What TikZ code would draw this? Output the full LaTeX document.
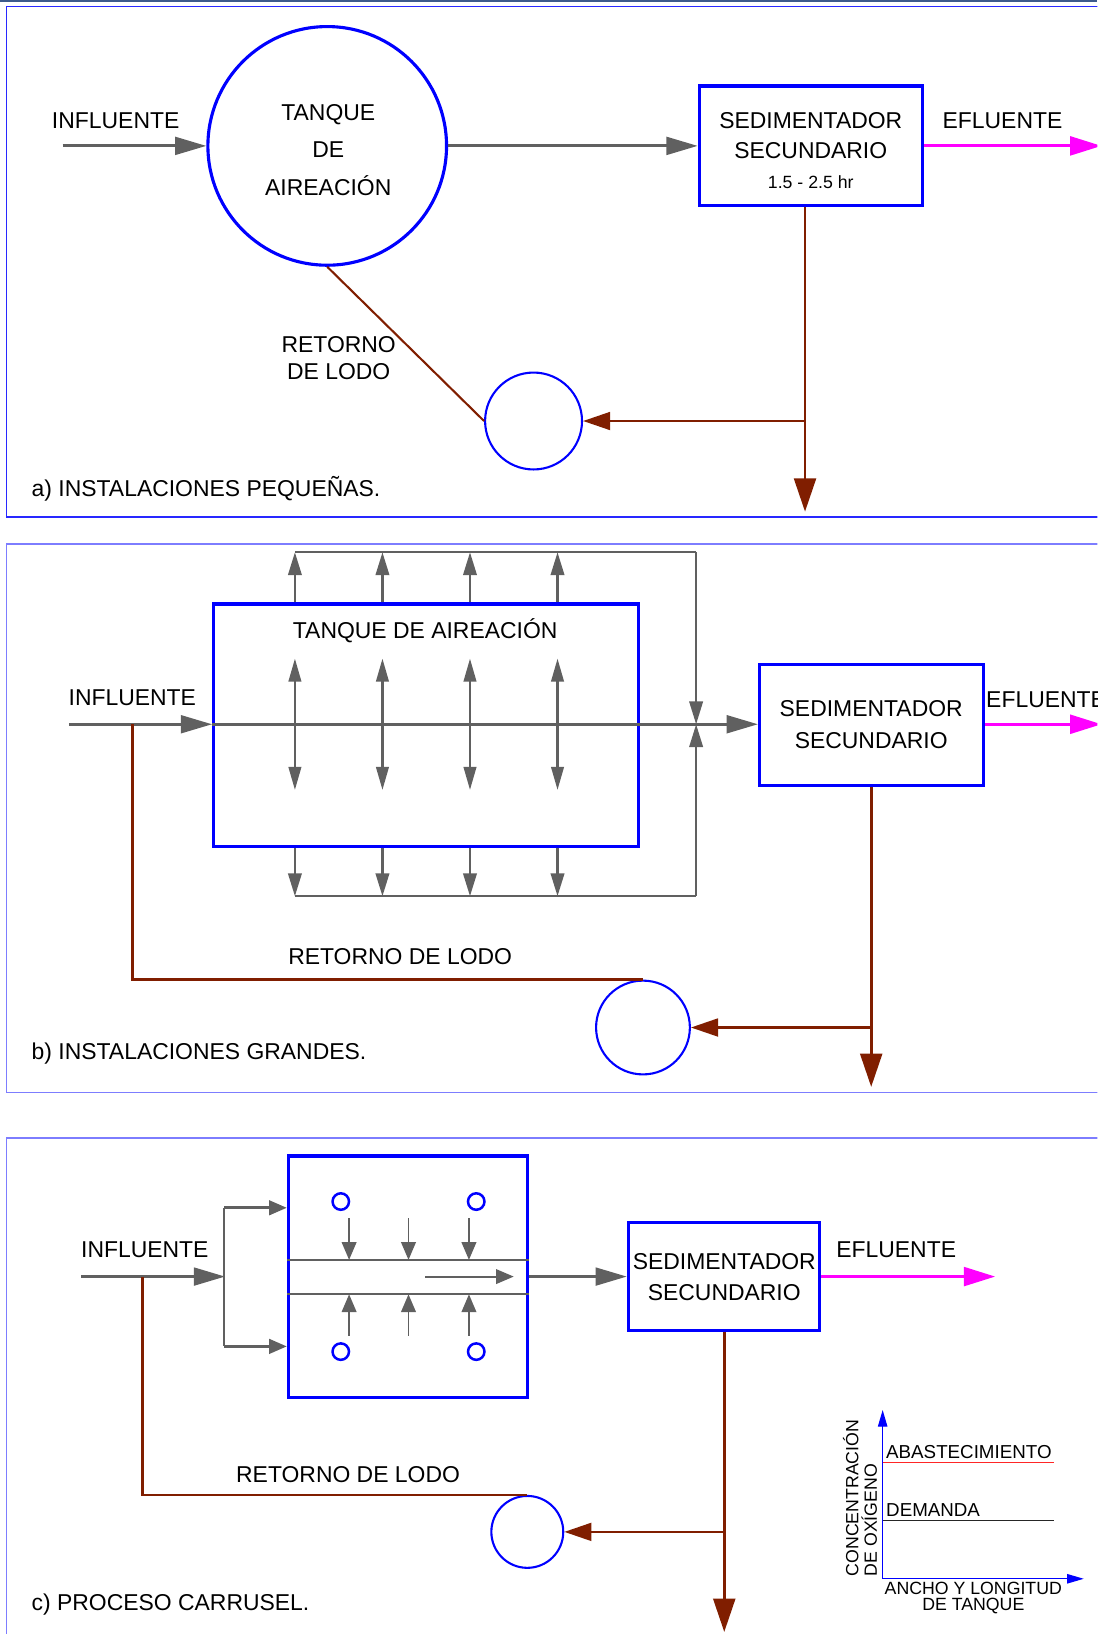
\documentclass[tikz,border=0pt]{standalone}
\usepackage{fontspec}
\setmainfont{Liberation Sans}
\usetikzlibrary{arrows.meta}

\definecolor{gris}{RGB}{96,96,96}
\definecolor{cafe}{RGB}{128,30,0}
\definecolor{rosa}{RGB}{255,0,255}
\definecolor{franja}{RGB}{60,90,140}
\definecolor{marcoA}{RGB}{40,40,255}
\definecolor{marcoB}{RGB}{125,125,255}

\begin{document}
\begin{tikzpicture}[x=0.5pt, y=-0.5pt,
    txt/.style={anchor=base, inner sep=0pt, font=\fontsize{11}{13}\selectfont},
    txtchico/.style={anchor=base, inner sep=0pt, font=\fontsize{8.5}{10}\selectfont},
    caja/.style={draw=blue, line width=1.5pt, inner sep=0pt},
    bomba/.style={circle, draw=blue, line width=1pt, inner sep=0pt},
    difusor/.style={circle, draw=blue, line width=1.2pt, inner sep=0pt, minimum size=7.9pt},
    linea/.style={draw=gris, line width=1.1pt},
    flujo/.style={draw=gris, line width=1.4pt, -{Triangle[length=15pt, width=8.5pt]}},
    flujoch/.style={draw=gris, line width=1.1pt, -{Triangle[length=11pt, width=6.5pt]}},
    flujomin/.style={draw=gris, line width=0.9pt, -{Triangle[length=8.5pt, width=7pt]}},
    efl/.style={draw=rosa, line width=1.4pt, -{Triangle[length=15pt, width=9pt]}},
    lodo/.style={draw=cafe, line width=1.3pt},
    lodofl/.style={lodo, -{Triangle[length=13pt, width=8.5pt]}},
    salida/.style={lodo, -{Triangle[length=16pt, width=10.5pt]}},
    eje/.style={draw=blue, line width=0.6pt, -{Triangle[length=8pt, width=4.5pt]}}]
  \clip (0,0) rectangle (1053,1568);

  % franja superior y marcos
  \fill[franja] (0,0) rectangle (1053,2.2);
  \draw[marcoA, line width=0.7pt] (1060,6) -- (6,6) -- (6,496) -- (1060,496);
  \draw[marcoB, line width=0.6pt] (1060,522) -- (6,522) -- (6,1048) -- (1060,1048);
  \draw[marcoB, line width=0.6pt] (1060,1092) -- (6,1092) -- (6,1580);

  % a) instalaciones pequenas
  \coordinate (inA) at (60,140);
  \node[bomba, line width=1.5pt, minimum size=114.5pt] (aireA) at (314,140) {};
  \node[caja, minimum width=107pt, minimum height=57.5pt] (sedA) at (778,140) {};
  \node[bomba, minimum size=46.5pt] (bombaA) at (512,404) {};
  \coordinate (efA) at (1057,140);
  \coordinate (jA) at (772.5,404);
  \coordinate (salA) at (772.5,491);
  \draw[flujo] (inA) -- (aireA);
  \draw[flujo] (aireA) -- (sedA);
  \draw[efl] (sedA) -- (efA);
  \draw[salida] (sedA.south -| salA) -- (salA);
  \draw[lodofl] (jA) -- (bombaA);
  \draw[lodo, line width=1pt] (bombaA.west) -- (aireA.south);
  \node[txt] (infA) at (111,123) {INFLUENTE};
  \node[txt] (tanA1) at (315,116) {TANQUE};
  \node[txt] (tanA2) at (315,151) {DE};
  \node[txt] (tanA3) at (315,188) {AIREACIÓN};
  \node[txt] (sedA1) at (778,123) {SEDIMENTADOR};
  \node[txt] (sedA2) at (778,152) {SECUNDARIO};
  \node[txtchico] (sedA3) at (778,181) {1.5 - 2.5 hr};
  \node[txt] (eflA) at (962,123) {EFLUENTE};
  \node[txt] (retA1) at (325,338) {RETORNO};
  \node[txt] (retA2) at (325,364) {DE LODO};
  \node[txt, anchor=base west] (titA) at (30,476) {a) INSTALACIONES PEQUEÑAS.};

  % b) instalaciones grandes
  \coordinate (inB) at (66,695);
  \node[caja, minimum width=203.8pt, minimum height=116.4pt] (tanqueB) at (408.8,696) {};
  \node[caja, minimum width=107.5pt, minimum height=58pt] (sedB) at (836.3,696) {};
  \node[bomba, minimum size=45pt] (bombaB) at (617,986) {};
  \coordinate (efB) at (1057,695);
  \coordinate (jB) at (836,986);
  \coordinate (salB) at (836,1043);
  \coordinate (arribaB) at (668,530);
  \coordinate (abajoB) at (668,860);
  \coordinate (cruceB) at (668,695);
  \coordinate (retB) at (127,695);
  \draw[flujo] (inB) -- (inB -| tanqueB.west);
  \draw[flujo] (inB -| tanqueB.west) -- (inB -| sedB.west);
  \foreach \x in {283,367,451,535} {
    \draw[flujoch, {Triangle[length=11pt, width=6pt]}-{Triangle[length=11pt, width=6pt]}] (\x,632) -- (\x,758);
    \draw[flujoch] (\x,0 |- tanqueB.north) -- (\x,530);
    \draw[flujoch] (\x,0 |- tanqueB.south) -- (\x,860);
  }
  \draw[linea] (283,530) -- (arribaB);
  \draw[linea] (283,860) -- (abajoB);
  \draw[flujoch] (arribaB) -- (cruceB);
  \draw[flujoch] (abajoB) -- (cruceB);
  \draw[efl] (inB -| sedB.east) -- (efB);
  \draw[salida] (sedB.south -| salB) -- (salB);
  \draw[lodofl] (jB) -- (bombaB);
  \draw[lodo] (retB) |- (bombaB.north);
  \node[txt] (infB) at (127,677) {INFLUENTE};
  \node[txt] (tanB) at (408,613) {TANQUE DE AIREACIÓN};
  \node[txt] (sedB1) at (836,688) {SEDIMENTADOR};
  \node[txt] (sedB2) at (836,718) {SECUNDARIO};
  \node[txt, anchor=base west] (eflB) at (946,679) {EFLUENTE};
  \node[txt] (retB1) at (384,926) {RETORNO DE LODO};
  \node[txt, anchor=base west] (titB) at (30,1017) {b) INSTALACIONES GRANDES.};

  % c) proceso carrusel
  \coordinate (inC) at (78,1225);
  \coordinate (ramaC) at (216,1225);
  \coordinate (rama1) at (215,1159);
  \coordinate (rama2) at (215,1292);
  \node[caja, minimum width=114.9pt, minimum height=115.9pt] (tanqueC) at (391.6,1225.2) {};
  \node[caja, minimum width=91.5pt, minimum height=52pt] (sedC) at (694.5,1225) {};
  \node[bomba, minimum size=34.5pt] (bombaC) at (506,1470) {};
  \coordinate (efC) at (955,1225);
  \coordinate (jC) at (695,1470);
  \coordinate (salC) at (695,1566);
  \coordinate (retC) at (137,1225);
  \draw[flujo] (inC) -- (ramaC);
  \draw[draw=gris, line width=1.3pt] (rama1) -- (rama2);
  \draw[flujomin, line width=1.3pt] (rama1) -- (rama1 -| tanqueC.west);
  \draw[flujomin, line width=1.3pt] (rama2) -- (rama2 -| tanqueC.west);
  \draw[linea] (tanqueC.west |- 0,1209) -- (tanqueC.east |- 0,1209);
  \draw[linea] (tanqueC.west |- 0,1242) -- (tanqueC.east |- 0,1242);
  \draw[flujomin] (408,1225) -- (493,1225);
  \foreach \x in {335,392,450} {
    \draw[flujomin] (\x,1169) -- (\x,1209);
    \draw[flujomin] (\x,1282) -- (\x,1242);
  }
  \foreach \x/\y/\n in {327/1153/1, 457/1153/2, 327/1297/3, 457/1297/4}
    \node[difusor] (dif\n) at (\x,\y) {};
  \draw[flujo] (tanqueC.east |- inC) -- (sedC);
  \draw[efl] (sedC) -- (efC);
  \draw[salida] (sedC.south -| salC) -- (salC);
  \draw[lodofl] (jC) -- (bombaC);
  \draw[lodo] (retC) |- (bombaC.north);
  \node[txt] (infC) at (139,1207) {INFLUENTE};
  \node[txt] (sedC1) at (695,1218) {SEDIMENTADOR};
  \node[txt] (sedC2) at (695,1248) {SECUNDARIO};
  \node[txt] (eflC) at (860,1207) {EFLUENTE};
  \node[txt] (retC1) at (334,1423) {RETORNO DE LODO};
  \node[txt, anchor=base west] (titC) at (30,1545) {c) PROCESO CARRUSEL.};

  % grafica de oxigeno
  \coordinate (origen) at (847,1515);
  \coordinate (ejeY) at (847,1353);
  \coordinate (ejeX) at (1040,1515);
  \draw[eje] (origen) -- (ejeY);
  \draw[eje] (origen) -- (ejeX);
  \draw[red!85, line width=0.5pt] (origen |- 0,1403) -- (1011,1403);
  \draw[black!85, line width=0.5pt] (origen |- 0,1459) -- (1011,1459);
  \node[inner sep=0pt, anchor=base west, font=\fontsize{9}{10}\selectfont] (abast) at (850,1399.5) {ABASTECIMIENTO};
  \node[inner sep=0pt, anchor=base west, font=\fontsize{9}{10}\selectfont] (dem) at (850,1455) {DEMANDA};
  \node[txtchico] (ancho1) at (934,1530) {ANCHO Y LONGITUD};
  \node[txtchico] (ancho2) at (934,1545) {DE TANQUE};
  \node[txtchico, anchor=base west, rotate=90] (conc1) at (823.6,1513) {CONCENTRACIÓN};
  \node[txtchico, anchor=base west, rotate=90] (conc2) at (841.5,1513) {DE OXÍGENO};
\end{tikzpicture}
\end{document}
